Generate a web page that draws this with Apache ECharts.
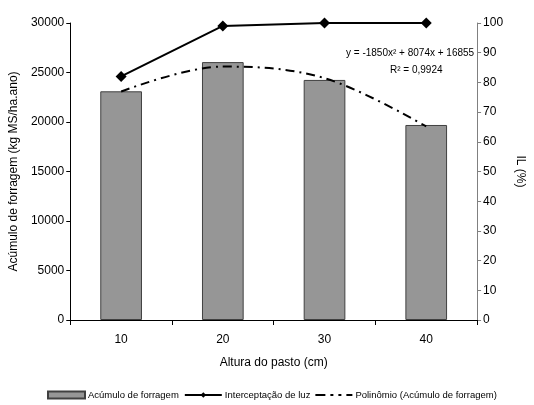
<!DOCTYPE html>
<html>
<head>
<meta charset="utf-8">
<script src="https://cdn.jsdelivr.net/npm/echarts@6/dist/echarts.min.js"></script>
<style>
  html, body { margin: 0; padding: 0; background: #fff; }
  #chart { width: 534px; height: 405px; }
</style>
</head>
<body>
<div id="chart"></div>
<script>
// Pasture height categories (cm)
const alturas = ['10', '20', '30', '40'];
// Forage accumulation (kg MS/ha.ano)
const acumulo = [23100, 26050, 24250, 19700];
// Light interception (%)
const interceptacao = [82, 99, 100, 100];
// Quadratic trend of forage accumulation at each height
const polinomio = [23079, 25603, 24427, 19551];
// Axis ranges
const leftMax = 30000, leftStep = 5000;
const rightMax = 100, rightStep = 10;

const font = 'Liberation Sans, Arial, sans-serif';
const chart = echarts.init(document.getElementById('chart'), null, { renderer: 'canvas' });

chart.setOption({
  animation: false,
  backgroundColor: '#ffffff',
  textStyle: { fontFamily: font },
  grid: { left: 69, right: 44, top: 23, bottom: 85 },
  xAxis: {
    type: 'category',
    data: alturas,
    name: 'Altura do pasto (cm)',
    nameLocation: 'middle',
    nameGap: 37,
    nameTextStyle: { color: '#000', fontSize: 12, fontFamily: font },
    axisLine: { lineStyle: { color: '#000', width: 1 } },
    axisTick: { show: true, length: 5, lineStyle: { color: '#000' } },
    axisLabel: { color: '#000', fontSize: 12, margin: 14, fontFamily: font },
    splitLine: { show: false }
  },
  yAxis: [
    {
      type: 'value',
      min: 0, max: leftMax, interval: leftStep,
      name: 'Acúmulo de forragem (kg MS/ha.ano)',
      nameLocation: 'middle',
      nameGap: 42,
      nameTextStyle: { color: '#000', fontSize: 12, fontFamily: font },
      axisLine: { show: true, lineStyle: { color: '#000' } },
      axisTick: { show: true, length: 4, lineStyle: { color: '#000' } },
      axisLabel: { color: '#000', fontSize: 12, margin: 6, fontFamily: font,
                   formatter: (v) => String(v) },
      splitLine: { show: false }
    },
    {
      type: 'value',
      min: 0, max: rightMax, interval: rightStep,
      position: 'right',
      name: 'IL (%)',
      nameLocation: 'middle',
      nameRotate: -90,
      nameGap: 30,
      nameTextStyle: { color: '#000', fontSize: 12, fontFamily: font },
      axisLine: { show: true, lineStyle: { color: '#808080' } },
      axisTick: { show: true, length: 4, inside: false, lineStyle: { color: '#808080' } },
      axisLabel: { color: '#000', fontSize: 12, margin: 6, fontFamily: font },
      splitLine: { show: false }
    }
  ],
  legend: {
    bottom: 0,
    left: 42,
    itemGap: 5,
    itemWidth: 37,
    itemHeight: 7,
    textStyle: { fontSize: 9.5, color: '#000', fontFamily: font, padding: [0, 0, 0, -2] },
    data: [
      { name: 'Acúmulo de forragem', icon: 'rect' },
      { name: 'Interceptação de luz' },
      { name: 'Polinômio (Acúmulo de forragem)', icon: 'path://M0,0 H10 V2 H0 Z M15,0 H18 V2 H15 Z M23,0 H26 V2 H23 Z M31,0 H37 V2 H31 Z' }
    ]
  },
  series: [
    {
      name: 'Acúmulo de forragem',
      type: 'bar',
      data: acumulo,
      barWidth: '41%',
      itemStyle: { color: '#969696', borderColor: '#404040', borderWidth: 1 }
    },
    {
      name: 'Interceptação de luz',
      type: 'line',
      yAxisIndex: 1,
      data: interceptacao,
      symbol: 'diamond',
      symbolSize: 11,
      lineStyle: { color: '#000', width: 2 },
      itemStyle: { color: '#000' },
      z: 5
    },
    {
      name: 'Polinômio (Acúmulo de forragem)',
      type: 'line',
      data: polinomio,
      smooth: 0.35,
      symbol: 'none',
      lineStyle: { color: '#000', width: 2, type: [9, 5, 2, 5] },
      itemStyle: { color: '#000' },
      z: 4
    }
  ],
  graphic: [
    {
      type: 'text',
      left: 346, top: 48,
      style: { text: 'y = -1850x² + 8074x + 16855', fontSize: 10, fill: '#000', fontFamily: font }
    },
    {
      type: 'text',
      left: 390, top: 65,
      style: { text: 'R² = 0,9924', fontSize: 10, fill: '#000', fontFamily: font }
    }
  ]
});
</script>
</body>
</html>
